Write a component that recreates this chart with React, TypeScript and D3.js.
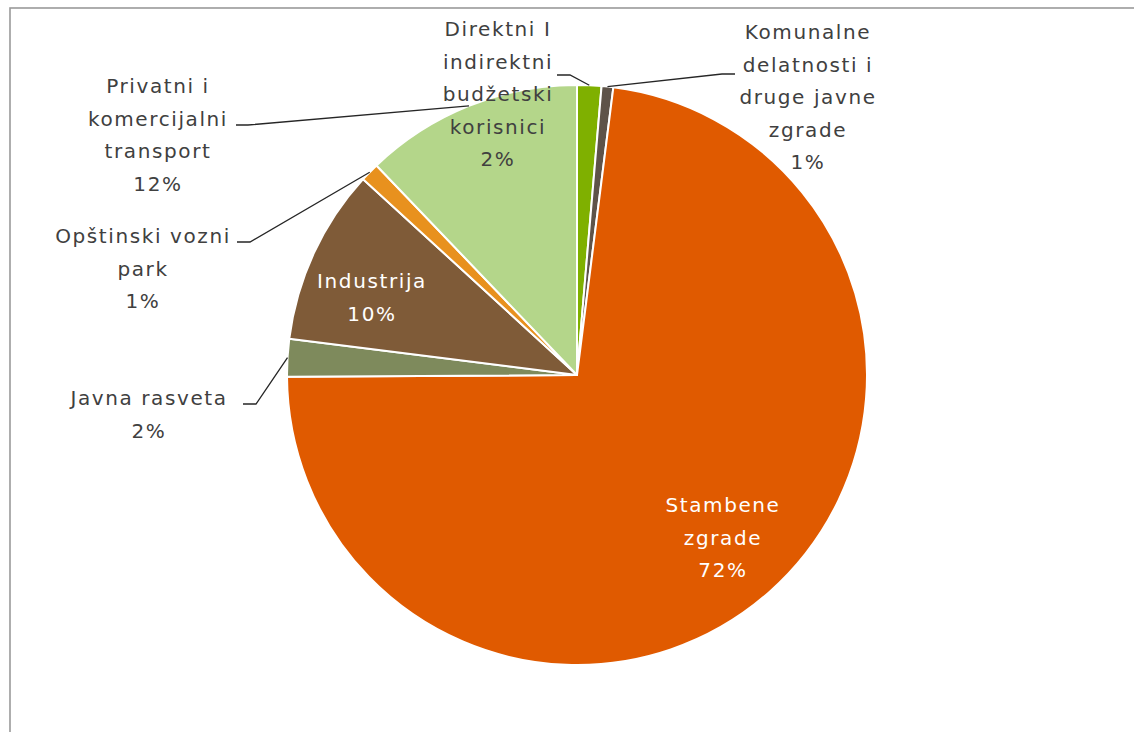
import React from "react";
import * as d3 from "d3";

const categories: string[] = [
  "Direktni I\nindirektni\nbudžetski\nkorisnici",
  "Komunalne\ndelatnosti i\ndruge javne\nzgrade",
  "Stambene\nzgrade",
  "Javna rasveta",
  "Industrija",
  "Opštinski vozni\npark",
  "Privatni i\nkomercijalni\ntransport",
];
const values: number[] = [1.35, 0.65, 72.9, 2.1, 9.8, 1.05, 12.15];
const percentLabels: string[] = ["2%", "1%", "72%", "2%", "10%", "1%", "12%"];

const colors = ["#7fb000", "#5e5349", "#e05a00", "#7e8a5c", "#7f5b38", "#e8911e", "#b4d68a"];

const W = 1134;
const H = 732;
const CX = 577;
const CY = 375;
const R = 290;
const LINE_H = 32.5;

// label layout: center x, first baseline, inside?, leader start point (label side)
const labelLayout = [
  { x: 498, y: 36, inside: false, leader: [[557, 75], [570, 75]] },
  { x: 808, y: 39, inside: false, leader: [[735, 74], [722, 74]] },
  { x: 723, y: 512, inside: true, leader: null },
  { x: 149, y: 405, inside: false, leader: [[243, 404], [256, 404]] },
  { x: 372, y: 288, inside: true, leader: null },
  { x: 143, y: 243, inside: false, leader: [[237, 242], [250, 242]] },
  { x: 158, y: 93, inside: false, leader: [[236, 125], [248, 125]] },
];

export default function App() {
  const pie = d3.pie<number>().sort(null).value((d) => d);
  const arcs = pie(values);
  const arcGen = d3.arc<d3.PieArcDatum<number>>().innerRadius(0).outerRadius(R);
  const edgeArc = d3.arc<d3.PieArcDatum<number>>().innerRadius(R).outerRadius(R);

  return (
    <svg
      width={W}
      height={H}
      style={{ position: "absolute", left: 0, top: 0, background: "#fff" }}
      fontFamily="'DejaVu Sans', sans-serif"
    >
      <rect x={10} y={8} width={1300} height={900} fill="#fff" stroke="#9a9a9a" strokeWidth={1.6} />
      <g transform={`translate(${CX},${CY})`}>
        {arcs.map((a, i) => (
          <path key={i} d={arcGen(a) || ""} fill={colors[i]} stroke="#fff" strokeWidth={2} strokeLinejoin="round" />
        ))}
      </g>
      {arcs.map((a, i) => {
        const L = labelLayout[i];
        if (!L.leader) return null;
        const [ex, ey] = edgeArc.centroid(a);
        const pts = [...L.leader, [ex + CX, ey + CY]];
        const line = d3.line()(pts as [number, number][]);
        return <path key={"l" + i} d={line || ""} fill="none" stroke="#262626" strokeWidth={1.3} />;
      })}
      {categories.map((c, i) => {
        const L = labelLayout[i];
        const lines = [...c.split("\n"), percentLabels[i]];
        return (
          <text
            key={"t" + i}
            x={L.x}
            y={L.y}
            textAnchor="middle"
            fontSize={20}
            letterSpacing={1.6}
            fill={L.inside ? "#ffffff" : "#404040"}
          >
            {lines.map((ln, j) => (
              <tspan key={j} x={L.x} y={L.y + j * LINE_H}>
                {ln}
              </tspan>
            ))}
          </text>
        );
      })}
    </svg>
  );
}
